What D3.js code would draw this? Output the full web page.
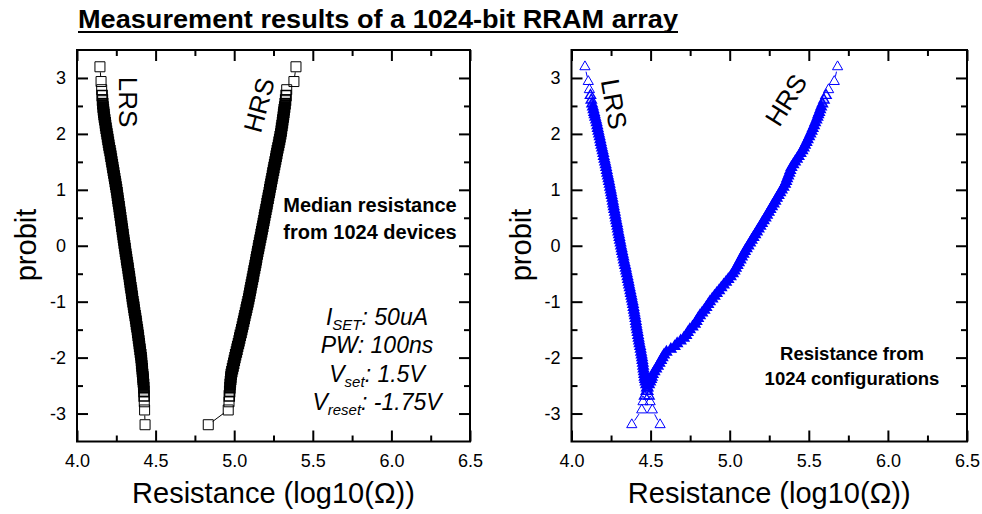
<!DOCTYPE html>
<html><head><meta charset="utf-8">
<script src="https://cdn.jsdelivr.net/npm/d3@7"></script>
<style>body{margin:0;background:#fff}svg{display:block}text{font-family:"Liberation Sans",Arial,Helvetica,sans-serif}</style>
</head><body><svg id="c" width="982" height="514"></svg>
<script>
// probit levels (median ranks of 1024 samples, as plotted)
const probit = [-3.2,-2.936,-2.79,-2.687,-2.605,-2.539,-2.482,-2.433,-2.387,-2.347,
 -2.30,-2.25,-2.20,-2.15,-2.10,-2.05,-2.00,-1.95,-1.90,-1.85,-1.80,-1.75,-1.70,-1.65,-1.60,-1.55,-1.50,
 -1.45,-1.40,-1.35,-1.30,-1.25,-1.20,-1.15,-1.10,-1.05,-1.00,-0.95,-0.90,-0.85,-0.80,-0.75,-0.70,-0.65,-0.60,-0.55,-0.50,
 -0.45,-0.40,-0.35,-0.30,-0.25,-0.20,-0.15,-0.10,-0.05,0.00,0.05,0.10,0.15,0.20,0.25,0.30,0.35,0.40,0.45,0.50,
 0.55,0.60,0.65,0.70,0.75,0.80,0.85,0.90,0.95,1.00,1.05,1.10,1.15,1.20,1.25,1.30,1.35,1.40,1.45,1.50,
 1.55,1.60,1.65,1.70,1.75,1.80,1.85,1.90,1.95,2.00,2.05,2.10,2.15,2.20,2.25,2.30,
 2.347,2.387,2.433,2.482,2.539,2.605,2.687,2.79,2.936,3.2];

// Left panel: median resistance from 1024 devices (log10 Ohm)
const lrsDevices = [4.433,4.430,4.428,4.427,4.426,4.425,4.424,4.422,4.421,4.420,
 4.418,4.416,4.415,4.413,4.411,4.410,4.408,
 4.406,4.403,4.401,4.398,4.396,4.394,4.391,4.389,4.386,4.384,
 4.381,4.378,4.376,4.373,4.370,4.367,4.364,4.362,4.359,4.356,
 4.353,4.351,4.348,4.346,4.343,4.340,4.338,4.335,4.333,4.330,
 4.327,4.325,4.322,4.319,4.316,4.314,4.311,4.308,4.306,4.303,
 4.300,4.298,4.295,4.293,4.290,4.288,4.285,4.283,4.280,4.278,
 4.275,4.273,4.270,4.268,4.265,4.262,4.260,4.257,4.255,4.252,
 4.249,4.246,4.243,4.240,4.237,4.234,4.231,4.228,4.225,4.222,
 4.219,4.216,4.213,4.210,4.206,4.203,4.200,4.197,4.194,4.191,
 4.188,4.185,4.182,4.180,4.177,4.174,
 4.172,4.170,4.168,4.166,4.164,4.162,4.160,4.157,4.153,4.146];
const hrsDevices = [4.835,4.962,4.967,4.969,4.971,4.973,4.974,4.976,4.978,4.979,
 4.981,4.985,4.989,4.993,4.997,5.001,5.005,
 5.009,5.014,5.018,5.022,5.027,5.031,5.035,5.039,5.044,5.048,
 5.052,5.056,5.060,5.064,5.068,5.072,5.076,5.080,5.084,5.088,
 5.092,5.095,5.099,5.102,5.106,5.109,5.113,5.116,5.120,5.123,
 5.126,5.130,5.133,5.137,5.140,5.143,5.147,5.150,5.154,5.157,
 5.161,5.164,5.168,5.171,5.175,5.178,5.182,5.185,5.189,5.192,
 5.195,5.199,5.202,5.206,5.209,5.212,5.216,5.219,5.223,5.226,
 5.229,5.233,5.236,5.240,5.243,5.246,5.250,5.253,5.257,5.260,
 5.264,5.267,5.271,5.274,5.278,5.282,5.285,5.289,5.292,5.296,
 5.299,5.301,5.304,5.307,5.309,5.312,
 5.314,5.316,5.318,5.321,5.324,5.327,5.330,5.334,5.380,5.393];

// Right panel: resistance from 1024 configurations (log10 Ohm)
const lrsConfigs = [4.560,4.511,4.497,4.490,4.482,4.476,4.472,4.468,4.465,4.462,
 4.460,4.458,4.455,4.453,4.451,4.448,4.446,
 4.443,4.440,4.437,4.434,4.430,4.427,4.424,4.421,4.418,4.415,
 4.412,4.409,4.407,4.404,4.401,4.398,4.395,4.392,4.389,4.386,
 4.382,4.379,4.375,4.372,4.368,4.364,4.361,4.357,4.354,4.350,
 4.346,4.343,4.339,4.335,4.331,4.328,4.324,4.320,4.317,4.313,
 4.310,4.306,4.303,4.300,4.296,4.293,4.290,4.287,4.283,4.280,
 4.277,4.274,4.270,4.267,4.264,4.261,4.258,4.254,4.251,4.248,
 4.244,4.241,4.237,4.234,4.230,4.226,4.223,4.219,4.216,4.212,
 4.208,4.204,4.201,4.197,4.193,4.189,4.185,4.182,4.178,4.174,
 4.170,4.166,4.163,4.159,4.155,4.150,
 4.146,4.143,4.139,4.135,4.130,4.125,4.120,4.113,4.106,4.085];
const hrsConfigs = [4.381,4.444,4.452,4.462,4.473,4.482,4.490,4.497,4.503,4.508,
 4.514,4.524,4.535,4.546,4.556,4.566,4.575,
 4.585,4.600,4.628,4.652,4.668,4.690,4.710,4.725,4.735,4.748,
 4.765,4.780,4.790,4.800,4.812,4.826,4.840,4.852,4.864,4.875,
 4.890,4.904,4.918,4.933,4.947,4.962,4.977,4.991,5.006,5.020,
 5.030,5.039,5.049,5.058,5.068,5.077,5.087,5.096,5.107,5.118,
 5.129,5.139,5.150,5.161,5.172,5.183,5.194,5.204,5.215,5.226,
 5.236,5.247,5.257,5.267,5.278,5.288,5.298,5.309,5.319,5.329,
 5.340,5.350,5.357,5.363,5.370,5.377,5.383,5.390,5.402,5.413,
 5.425,5.436,5.448,5.459,5.468,5.476,5.485,5.493,5.502,5.510,
 5.518,5.525,5.533,5.540,5.548,5.555,
 5.560,5.566,5.572,5.578,5.586,5.596,5.609,5.625,5.661,5.682];

const xTicks = [4.0, 4.5, 5.0, 5.5, 6.0, 6.5];
const xMinor = [4.25, 4.75, 5.25, 5.75, 6.25];
const yTicks = [-3, -2, -1, 0, 1, 2, 3];
const yMinor = [-2.5, -1.5, -0.5, 0.5, 1.5, 2.5];
const xDomain = [4.0, 6.5];
const yDomain = [-3.5, 3.5];

const svg = d3.select('#c');
const FONT = '"Liberation Sans",Arial,Helvetica,sans-serif';
const plotTop = 50, plotBottom = 441.5;

function styleAxis(sel, size) {
  sel.attr('font-size', size).attr('font-family', FONT);
  sel.select('.domain').remove();
  sel.selectAll('.tick line').attr('stroke', '#000').attr('stroke-width', 2);
  sel.selectAll('.tick text').attr('fill', '#000');
}

function panel(x0, x1, series, symType, symSize, color, gap) {
  const x = d3.scaleLinear().domain(xDomain).range([x0, x1]);
  const y = d3.scaleLinear().domain(yDomain).range([plotBottom, plotTop]);
  const g = svg.append('g');

  g.append('g').attr('transform', `translate(0,${plotBottom})`)
    .call(d3.axisBottom(x).tickValues(xTicks).tickSizeInner(-11).tickSizeOuter(0).tickPadding(13).tickFormat(d3.format('.1f')))
    .call(s => styleAxis(s, 18));
  g.append('g').attr('transform', `translate(0,${plotBottom})`)
    .call(d3.axisBottom(x).tickValues(xMinor).tickSizeInner(-6).tickSizeOuter(0).tickFormat(''))
    .call(s => styleAxis(s, 18));
  g.append('g').attr('transform', `translate(0,${plotTop})`)
    .call(d3.axisTop(x).tickValues(xTicks).tickSizeInner(-11).tickSizeOuter(0).tickFormat(''))
    .call(s => styleAxis(s, 18));
  g.append('g').attr('transform', `translate(0,${plotTop})`)
    .call(d3.axisTop(x).tickValues(xMinor).tickSizeInner(-6).tickSizeOuter(0).tickFormat(''))
    .call(s => styleAxis(s, 18));
  g.append('g').attr('transform', `translate(${x0},0)`)
    .call(d3.axisLeft(y).tickValues(yTicks).tickSizeInner(-11).tickSizeOuter(0).tickPadding(11).tickFormat(d => String(d)))
    .call(s => styleAxis(s, 18));
  g.append('g').attr('transform', `translate(${x0},0)`)
    .call(d3.axisLeft(y).tickValues(yMinor).tickSizeInner(-6).tickSizeOuter(0).tickFormat(''))
    .call(s => styleAxis(s, 18));
  g.append('g').attr('transform', `translate(${x1},0)`)
    .call(d3.axisRight(y).tickValues(yTicks).tickSizeInner(-11).tickSizeOuter(0).tickFormat(''))
    .call(s => styleAxis(s, 18));
  g.append('g').attr('transform', `translate(${x1},0)`)
    .call(d3.axisRight(y).tickValues(yMinor).tickSizeInner(-6).tickSizeOuter(0).tickFormat(''))
    .call(s => styleAxis(s, 18));
  g.append('rect').attr('x', x0).attr('y', plotTop).attr('width', x1 - x0).attr('height', plotBottom - plotTop)
    .attr('fill', 'none').attr('stroke', '#000').attr('stroke-width', 2);

  const sym = d3.symbol().type(symType).size(symSize);
  series.forEach(vals => {
    const pts = probit.map((z, i) => ({ z, r: vals[i], px: x(vals[i]), py: y(z) }));
    // where markers crowd together (vertical spacing in px) they merge into a solid band
    pts.forEach((p, i) => {
      const dPrev = i > 0 ? Math.abs(p.py - pts[i - 1].py) : Infinity;
      const dNext = i < pts.length - 1 ? Math.abs(p.py - pts[i + 1].py) : Infinity;
      const d = Math.min(dPrev, dNext);
      p.fo = Math.max(0, Math.min(1, (3.9 - d) / 1.0));
      p.sw = d < 5 ? 1.4 : 1;
    });
    const segs = [];
    for (let i = 0; i < pts.length - 1; i++) {
      const ax = pts[i].px, ay = pts[i].py, bx = pts[i + 1].px, by = pts[i + 1].py;
      const d = Math.hypot(bx - ax, by - ay);
      if (d > 2 * gap) {
        const ux = (bx - ax) / d, uy = (by - ay) / d;
        segs.push([ax + ux * gap, ay + uy * gap, bx - ux * gap, by - uy * gap]);
      }
    }
    g.append('g').selectAll('line').data(segs).join('line')
      .attr('x1', d => d[0]).attr('y1', d => d[1]).attr('x2', d => d[2]).attr('y2', d => d[3])
      .attr('stroke', color).attr('stroke-width', 1);
    g.append('g').selectAll('path').data(pts).join('path')
      .attr('transform', d => `translate(${d.px},${d.py})`)
      .attr('d', sym).attr('fill', color).attr('fill-opacity', d => d.fo)
      .attr('stroke', color).attr('stroke-width', d => d.sw);
  });

  g.append('text').attr('x', (x0 + x1) / 2).attr('y', 503).attr('text-anchor', 'middle')
    .attr('font-size', 29).text('Resistance (log10(Ω))');
  return { x, y, g };
}

panel(77, 470, [lrsDevices, hrsDevices], d3.symbolSquare, 100, '#000', 5.5);
panel(571.5, 967, [lrsConfigs, hrsConfigs], d3.symbolTriangle, 45, '#0000ff', 5);

svg.append('text').attr('transform', 'translate(36,245) rotate(-90)').attr('text-anchor', 'middle')
  .attr('font-size', 29).text('probit');
svg.append('text').attr('transform', 'translate(531,245) rotate(-90)').attr('text-anchor', 'middle')
  .attr('font-size', 29).text('probit');

svg.append('text').attr('x', 78).attr('y', 28).attr('font-size', 25).attr('font-weight', 'bold')
  .attr('textLength', 600).attr('lengthAdjust', 'spacingAndGlyphs')
  .text('Measurement results of a 1024-bit RRAM array');
svg.append('line').attr('x1', 78).attr('x2', 678).attr('y1', 32).attr('y2', 32)
  .attr('stroke', '#000').attr('stroke-width', 2);

function rotLabel(x, y, ang, t) {
  svg.append('text').attr('transform', `translate(${x},${y}) rotate(${ang})`)
    .attr('text-anchor', 'middle').attr('dy', '0.35em').attr('font-size', 26).text(t);
}
rotLabel(128, 102, 90, 'LRS');
rotLabel(259, 105, -75, 'HRS');
rotLabel(614, 104, 80, 'LRS');
rotLabel(786, 100, -58, 'HRS');

function bold2(x, y1, y2, size, a, b) {
  svg.append('text').attr('x', x).attr('y', y1).attr('text-anchor', 'middle').attr('font-size', size).attr('font-weight', 'bold').text(a);
  svg.append('text').attr('x', x).attr('y', y2).attr('text-anchor', 'middle').attr('font-size', size).attr('font-weight', 'bold').text(b);
}
bold2(370, 212, 239, 20, 'Median resistance', 'from 1024 devices');
bold2(852, 360, 385, 18.5, 'Resistance from', '1024 configurations');

const cond = [
  ['I', 'SET', ': 50uA'],
  ['PW: 100ns', '', ''],
  ['V', 'set', ': 1.5V'],
  ['V', 'reset', ': -1.75V']
];
const condY = [325, 353, 381.5, 410];
cond.forEach((c, i) => {
  const t = svg.append('text').attr('x', 377).attr('y', condY[i]).attr('text-anchor', 'middle')
    .attr('font-size', 23).attr('font-style', 'italic');
  t.append('tspan').text(c[0]);
  if (c[1]) {
    t.append('tspan').attr('font-size', 15).attr('dy', 5).text(c[1]);
    t.append('tspan').attr('dy', -5).text(c[2]);
  }
});
</script></body></html>
